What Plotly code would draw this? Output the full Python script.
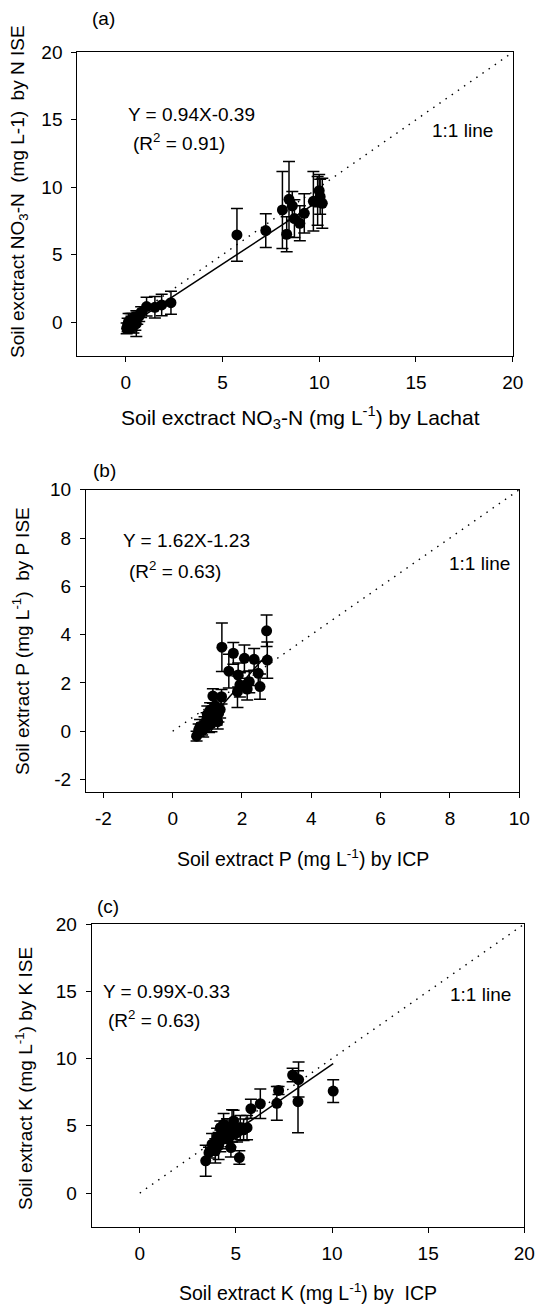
import plotly.graph_objects as go

W, H = 538, 1304

# ---------------- Panel (a): NO3-N ----------------
a_x = [0.05, 0.10, 0.15, 0.20, 0.25, 0.30, 0.35, 0.40, 0.50, 0.55, 0.60, 0.70, 0.80, 1.08, 1.51, 1.86, 2.34,
       5.75, 7.24, 8.10, 8.32, 8.44, 8.61, 8.72, 9.00, 9.23, 9.70, 9.92, 10.00, 10.16, 10.05]
a_y = [-0.45, -0.20, 0.05, -0.35, 0.15, -0.10, 0.20, -0.30, 0.00, -0.10, 0.30, 0.45, 0.75, 1.16, 1.11, 1.28, 1.45,
       6.47, 6.79, 8.32, 6.52, 9.11, 8.62, 7.68, 7.33, 8.07, 8.96, 8.99, 9.75, 8.81, 9.30]
a_err = [0.40, 0.50, 0.60, 0.40, 0.50, 0.55, 0.45, 0.50, 0.60, 0.95, 0.45, 0.40, 0.40, 0.70, 0.80, 0.80, 0.85,
         1.95, 1.25, 2.85, 1.30, 2.80, 1.06, 1.40, 1.30, 1.45, 2.20, 1.80, 1.20, 1.85, 1.30]
a_fit = (0.94, -0.39)
a_eq = "Y = 0.94X-0.39"
a_r2 = "(R<sup>2</sup> = 0.91)"
a_ticks = [0, 5, 10, 15, 20]

# ---------------- Panel (b): P ----------------
b_x = [0.69, 0.75, 0.79, 0.85, 0.88, 0.92, 0.98, 1.05, 1.08, 1.12, 1.16, 1.20, 1.27, 1.30, 1.32, 1.37, 1.41,
       1.42, 1.62, 1.75, 1.87, 1.89, 1.94, 2.07, 2.21, 2.35, 2.47, 2.52, 2.71, 2.73, 1.00, 1.22, 2.15]
b_y = [-0.20, 0.05, 0.19, 0.10, 0.06, 0.30, 0.47, 0.25, 0.88, 0.33, 1.46, 0.55, 0.61, 0.40, 0.74, 0.90, 1.43,
       3.48, 2.49, 3.23, 1.64, 2.33, 1.92, 3.02, 2.05, 2.98, 2.40, 1.85, 4.16, 2.95, 0.70, 1.05, 1.75]
b_err = [0.20, 0.25, 0.30, 0.25, 0.30, 0.30, 0.30, 0.30, 0.30, 0.35, 0.30, 0.30, 0.35, 0.30, 0.35, 0.35, 0.30,
         1.00, 0.70, 0.45, 0.65, 0.50, 0.50, 0.55, 0.45, 0.45, 0.50, 0.52, 0.65, 0.75, 0.35, 0.35, 0.45]
b_fit = (1.62, -1.23)
b_eq = "Y = 1.62X-1.23"
b_r2 = "(R<sup>2</sup> = 0.63)"
b_ticks = [-2, 0, 2, 4, 6, 8, 10]

# ---------------- Panel (c): K ----------------
c_x = [3.43, 3.60, 3.76, 3.93, 4.02, 4.10, 4.19, 4.19, 4.30, 4.36, 4.54, 4.60, 4.71, 4.74, 4.80, 4.88, 5.06,
       5.18, 5.23, 5.40, 5.58, 5.78, 6.27, 7.13, 7.22, 7.95, 8.23, 8.26, 10.06]
c_y = [2.40, 3.00, 3.63, 3.14, 4.12, 3.50, 3.88, 4.86, 4.40, 5.11, 4.62, 4.00, 4.25, 3.38, 5.00, 5.36, 4.49,
       2.64, 4.86, 4.70, 4.86, 6.27, 6.64, 6.67, 7.63, 8.77, 6.79, 8.44, 7.58]
c_err = [1.15, 0.40, 0.80, 0.90, 0.70, 1.00, 0.80, 0.50, 0.70, 0.80, 0.90, 0.70, 0.80, 0.70, 1.20, 0.80, 0.70,
         0.50, 0.90, 0.80, 0.90, 0.70, 1.10, 1.25, 0.30, 0.50, 2.30, 1.30, 0.85]
c_fit = (0.99, -0.33)
c_eq = "Y = 0.99X-0.33"
c_r2 = "(R<sup>2</sup> = 0.63)"
c_ticks = [0, 5, 10, 15, 20]

FONT = "Liberation Sans, Arial, sans-serif"
FS = 19

fig = go.Figure()

panels = [
    dict(x=a_x, y=a_y, e=a_err, fit=a_fit, xa="x", ya="y", one=20, rng=[-2.5, 20], ticks=a_ticks),
    dict(x=b_x, y=b_y, e=b_err, fit=b_fit, xa="x2", ya="y2", one=10, rng=[-2.5, 10], ticks=b_ticks),
    dict(x=c_x, y=c_y, e=c_err, fit=c_fit, xa="x3", ya="y3", one=20, rng=[-2.5, 20], ticks=c_ticks),
]

for p in panels:
    # 1:1 line
    fig.add_trace(go.Scatter(x=[0, p["one"]], y=[0, p["one"]], mode="lines", xaxis=p["xa"], yaxis=p["ya"],
                             line=dict(color="black", width=1.4, dash="1.5px,6px"), showlegend=False,
                             hoverinfo="skip"))
    # regression line
    x0, x1 = min(p["x"]), max(p["x"])
    m, b = p["fit"]
    fig.add_trace(go.Scatter(x=[x0, x1], y=[m * x0 + b, m * x1 + b], mode="lines", xaxis=p["xa"], yaxis=p["ya"],
                             line=dict(color="black", width=1.5), showlegend=False))
    # data
    fig.add_trace(go.Scatter(x=p["x"], y=p["y"], mode="markers", xaxis=p["xa"], yaxis=p["ya"],
                             marker=dict(color="black", size=11),
                             error_y=dict(type="data", array=p["e"], visible=True, color="black",
                                          thickness=1.5, width=6),
                             showlegend=False))

def px2x(px):
    return px / W

def py2y(py):
    return 1 - py / H

domains = [
    ((77.3, 512.7), (52.3, 356.0)),
    ((86.0, 519.3), (489.7, 791.7)),
    ((91.7, 524.3), (924.0, 1226.7)),
]

axis_common = dict(showline=True, mirror=True, linecolor="black", linewidth=1, ticks="outside", ticklen=5,
                   tickcolor="black", tickwidth=1, showgrid=False, zeroline=False, automargin=False,
                   tickfont=dict(family=FONT, size=FS, color="black"))

layout = dict(width=W, height=H, margin=dict(l=0, r=0, t=0, b=0, autoexpand=False), plot_bgcolor="white",
              paper_bgcolor="white", showlegend=False, template="none")

for i, (p, ((xl, xr), (yt, yb))) in enumerate(zip(panels, domains)):
    sfx = "" if i == 0 else str(i + 1)
    tt = [str(v) for v in p["ticks"]]
    layout["xaxis" + sfx] = dict(axis_common, domain=[px2x(xl), px2x(xr)], range=p["rng"],
                                 tickvals=p["ticks"], ticktext=tt, anchor="y" + sfx, ticklabelstandoff=4)
    layout["yaxis" + sfx] = dict(axis_common, domain=[py2y(yb), py2y(yt)], range=p["rng"],
                                 tickvals=p["ticks"], ticktext=tt, anchor="x" + sfx, ticklabelstandoff=5)

fig.update_layout(**layout)

tf = dict(family=FONT, size=FS, color="black")
ann = []

def A(text, x, y, xref, yref, xanchor="left", yanchor="middle", angle=0, size=FS):
    ann.append(dict(text=text, x=x, y=y, xref=xref, yref=yref, xanchor=xanchor, yanchor=yanchor,
                    showarrow=False, font=dict(tf, size=size), textangle=angle))

# panel labels
A("(a)", px2x(103), py2y(18), "paper", "paper", "center")
A("(b)", px2x(104), py2y(470), "paper", "paper", "center")
A("(c)", px2x(108), py2y(906), "paper", "paper", "center")

# equations / 1:1 labels (in axis coordinates)
A(a_eq, 0.0, 15.4, "x", "y")
A(a_r2, 0.3, 13.35, "x", "y")
A("1:1 line", 17.4, 14.2, "x", "y", "center")

A(b_eq, -1.5, 7.88, "x2", "y2")
A(b_r2, -1.33, 6.68, "x2", "y2")
A("1:1 line", 8.86, 6.93, "x2", "y2", "center")

A(c_eq, -2.0, 15.02, "x3", "y3")
A(c_r2, -1.75, 12.93, "x3", "y3")
A("1:1 line", 17.7, 14.76, "x3", "y3", "center")

# axis titles
A("Soil exctract NO<sub>3</sub>-N (mg L<sup>-1</sup>) by Lachat", px2x(300), py2y(417), "paper", "paper", "center",
  size=21)
A("Soil extract P (mg L<sup>-1</sup>) by ICP", px2x(302.6), py2y(858), "paper", "paper", "center", size=19.5)
A("Soil extract K (mg L<sup>-1</sup>) by\u00a0 ICP", px2x(308), py2y(1291.5), "paper", "paper", "center", size=19.5)

A("Soil exctract NO<sub>3</sub>-N\u00a0 (mg L-1)\u00a0 by N ISE", px2x(19), py2y(192), "paper", "paper",
  "center", "middle", -90)
A("Soil extract P (mg L<sup>-1</sup>)\u00a0 by P ISE", px2x(21), py2y(641), "paper", "paper", "center", "middle", -90)
A("Soil extract K (mg L<sup>-1</sup>) by K ISE", px2x(24), py2y(1079), "paper", "paper", "center", "middle", -90)

fig.update_layout(annotations=ann)

fig.write_html("out.html")
